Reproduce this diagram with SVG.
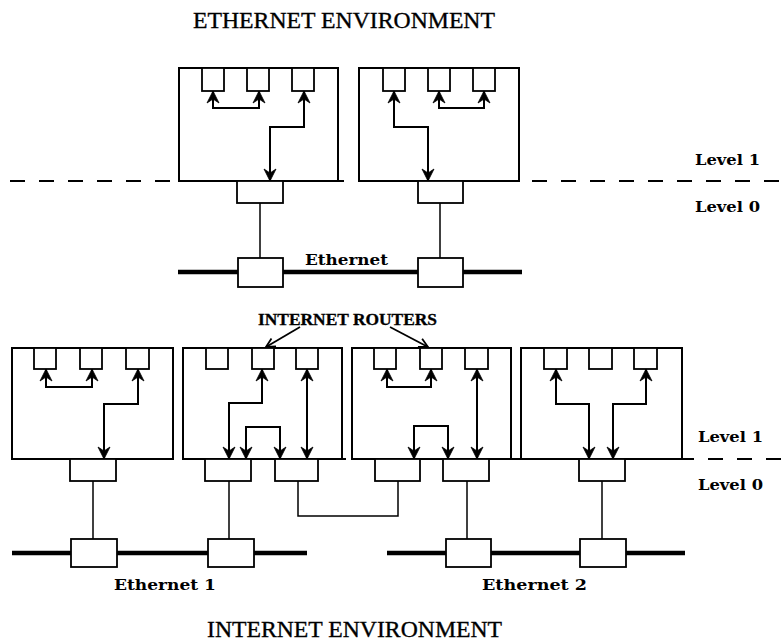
<svg xmlns="http://www.w3.org/2000/svg" width="784" height="641" viewBox="0 0 784 641">
  <style>
    .box { fill: #fff; stroke: #000; stroke-width: 2; }
    .port { fill: #fff; stroke: #000; stroke-width: 1.8; }
    .link { fill: none; stroke: #000; stroke-width: 2; marker-start: url(#head); marker-end: url(#head); }
    .drop { fill: none; stroke: #000; stroke-width: 1.5; }
    .wire { fill: none; stroke: #000; stroke-width: 4.5; }
    .level { fill: none; stroke: #000; stroke-width: 2; stroke-dasharray: 15 14; }
    .title { font-family: "Liberation Serif", serif; font-size: 24px; fill: #000; stroke: #000; stroke-width: 0.35; }
    .lbl { font-family: "DejaVu Serif", serif; font-weight: bold; font-size: 14px; fill: #000; }
    .callout { font-family: "Liberation Serif", serif; font-weight: bold; font-size: 16px; fill: #000; stroke: #000; stroke-width: 0.3; }
  </style>
  <defs>
    <marker id="head" viewBox="-13 -7 14 14" refX="0" refY="0" markerWidth="14" markerHeight="14" markerUnits="userSpaceOnUse" orient="auto-start-reverse">
      <path d="M0,0 L-12,-6 L-8,0 L-12,6 Z" fill="#000" stroke="#000" stroke-width="0.8" stroke-linejoin="miter"/>
    </marker>
    <marker id="open" viewBox="-11 -6 12 12" refX="0" refY="0" markerWidth="12" markerHeight="12" markerUnits="userSpaceOnUse" orient="auto">
      <path d="M-9,-4.5 L0,0 L-9,4.5" fill="none" stroke="#000" stroke-width="1.8"/>
    </marker>
  </defs>
  <rect width="784" height="641" fill="#fff"/>

  <!-- level separators and ethernet cables -->
  <g id="backbone">
    <line class="level" x1="10" y1="181" x2="784" y2="181"/>
    <line class="level" x1="12" y1="459" x2="784" y2="459"/>
    <line class="wire" x1="178" y1="272" x2="522" y2="272"/>
    <line class="wire" x1="12" y1="553" x2="307" y2="553"/>
    <line class="wire" x1="387" y1="553" x2="685" y2="553"/>
  </g>

  <!-- ===== Ethernet environment ===== -->
  <text class="title" x="193" y="28" textLength="302" lengthAdjust="spacingAndGlyphs">ETHERNET ENVIRONMENT</text>

  <g id="host-e1">
    <rect class="box" x="179" y="68" width="159" height="113"/>
    <rect class="port" x="202" y="68" width="22" height="23"/>
    <rect class="port" x="247" y="68" width="22" height="23"/>
    <rect class="port" x="292" y="68" width="22" height="23"/>
    <rect class="port" x="237" y="181" width="46" height="22"/>
  </g>
  <g id="host-e2">
    <rect class="box" x="359" y="68" width="160" height="113"/>
    <rect class="port" x="383" y="68" width="22" height="23"/>
    <rect class="port" x="428" y="68" width="22" height="23"/>
    <rect class="port" x="473" y="68" width="22" height="23"/>
    <rect class="port" x="418" y="181" width="45" height="22"/>
  </g>
  <g id="tap-e1"><rect class="port" x="238" y="258" width="45" height="29"/></g>
  <g id="tap-e2"><rect class="port" x="418" y="258" width="45" height="29"/></g>

  <!-- ===== Internet environment ===== -->
  <g id="host-a">
    <rect class="box" x="12" y="348" width="161" height="111"/>
    <rect class="port" x="34" y="348" width="22" height="21"/>
    <rect class="port" x="80" y="348" width="22" height="21"/>
    <rect class="port" x="126" y="348" width="23" height="21"/>
    <rect class="port" x="70" y="459" width="46" height="22"/>
  </g>
  <g id="router-b">
    <rect class="box" x="183" y="348" width="159" height="111"/>
    <rect class="port" x="206" y="348" width="22" height="21"/>
    <rect class="port" x="252" y="348" width="22" height="21"/>
    <rect class="port" x="296" y="348" width="22" height="21"/>
    <rect class="port" x="205" y="459" width="46" height="22"/>
    <rect class="port" x="275" y="459" width="43" height="22"/>
  </g>
  <g id="router-c">
    <rect class="box" x="352" y="348" width="159" height="111"/>
    <rect class="port" x="374" y="348" width="22" height="21"/>
    <rect class="port" x="420" y="348" width="22" height="21"/>
    <rect class="port" x="465" y="348" width="23" height="21"/>
    <rect class="port" x="375" y="459" width="45" height="22"/>
    <rect class="port" x="443" y="459" width="46" height="22"/>
  </g>
  <g id="host-d">
    <rect class="box" x="521" y="348" width="161" height="111"/>
    <rect class="port" x="544" y="348" width="23" height="21"/>
    <rect class="port" x="589" y="348" width="23" height="21"/>
    <rect class="port" x="634" y="348" width="23" height="21"/>
    <rect class="port" x="579" y="459" width="46" height="22"/>
  </g>
  <g id="tap-a"><rect class="port" x="71" y="539" width="46" height="28"/></g>
  <g id="tap-b"><rect class="port" x="208" y="539" width="46" height="28"/></g>
  <g id="tap-c"><rect class="port" x="446" y="539" width="45" height="28"/></g>
  <g id="tap-d"><rect class="port" x="580" y="539" width="46" height="28"/></g>

  <!-- connectors -->
  <g id="connectors">
    <!-- ethernet hosts -->
    <path class="link" d="M213,91 V108 H259 V91"/>
    <path class="link" d="M304,91 V127 H270 V181"/>
    <path class="link" d="M394,91 V127 H428 V181"/>
    <path class="link" d="M439,91 V108 H484 V91"/>
    <path class="drop" d="M260,203 V258"/>
    <path class="drop" d="M440,203 V258"/>

    <!-- internet hosts and routers -->
    <path class="link" d="M46,369 V387 H92 V369"/>
    <path class="link" d="M138,369 V404 H104 V459"/>
    <path class="link" d="M262,369 V403 H229 V459"/>
    <path class="link" d="M307,369 V459"/>
    <path class="link" d="M246,459 V427 H280 V459"/>
    <path class="link" d="M387,369 V387 H431 V369"/>
    <path class="link" d="M477,369 V459"/>
    <path class="link" d="M414,459 V426 H448 V459"/>
    <path class="link" d="M556,369 V404 H589 V459"/>
    <path class="link" d="M646,369 V404 H613 V459"/>
    <path class="drop" d="M93,481 V539"/>
    <path class="drop" d="M229,481 V539"/>
    <path class="drop" d="M467,481 V539"/>
    <path class="drop" d="M602,481 V539"/>
    <path class="drop" d="M298,481 V516 H398 V481"/>

    <!-- router callouts -->
    <line x1="300" y1="327" x2="266" y2="347" stroke="#000" stroke-width="1.8" marker-end="url(#open)"/>
    <line x1="390" y1="327" x2="428" y2="347" stroke="#000" stroke-width="1.8" marker-end="url(#open)"/>
  </g>

  <!-- labels -->
  <text class="lbl" x="305" y="265" textLength="83" lengthAdjust="spacingAndGlyphs">Ethernet</text>
  <text class="lbl" x="695" y="165" textLength="65" lengthAdjust="spacingAndGlyphs">Level 1</text>
  <text class="lbl" x="695" y="212" textLength="65" lengthAdjust="spacingAndGlyphs">Level 0</text>
  <text class="callout" x="258" y="325" textLength="179" lengthAdjust="spacingAndGlyphs">INTERNET ROUTERS</text>
  <text class="lbl" x="698" y="442" textLength="65" lengthAdjust="spacingAndGlyphs">Level 1</text>
  <text class="lbl" x="698" y="490" textLength="65" lengthAdjust="spacingAndGlyphs">Level 0</text>
  <text class="lbl" x="114" y="590" textLength="102" lengthAdjust="spacingAndGlyphs">Ethernet 1</text>
  <text class="lbl" x="482" y="590" textLength="105" lengthAdjust="spacingAndGlyphs">Ethernet 2</text>
  <text class="title" x="207" y="637" textLength="295" lengthAdjust="spacingAndGlyphs">INTERNET ENVIRONMENT</text>
</svg>
